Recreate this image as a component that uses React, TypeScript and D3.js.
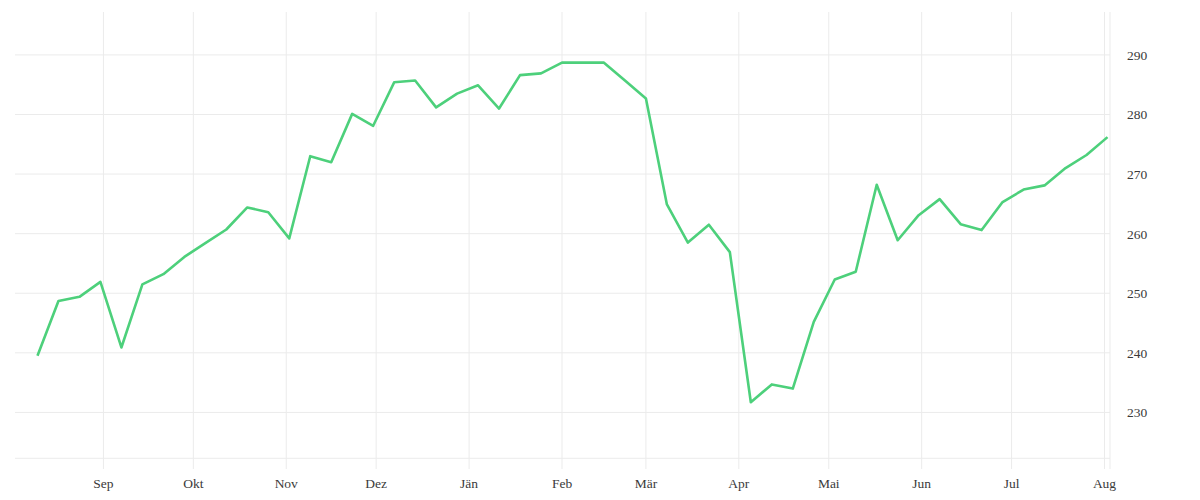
import React from "react";
import * as d3 from "d3";

const startDate = "2022-08-10";
const values: number[] = [
  239.5, 248.7, 249.4, 251.9, 240.9, 251.5, 253.2, 256.1, 258.4, 260.7,
  264.4, 263.6, 259.2, 273.0, 272.0, 280.1, 278.1, 285.4, 285.7, 281.2,
  283.5, 284.9, 281.0, 286.6, 286.9, 288.7, 288.7, 288.7, 285.7, 282.7,
  264.9, 258.5, 261.5, 256.9, 231.7, 234.7, 234.0, 245.2, 252.3, 253.6,
  268.2, 258.9, 263.1, 265.8, 261.6, 260.6, 265.3, 267.4, 268.1, 271.0,
  273.2, 276.2,
];
const monthLabels = ["Sep", "Okt", "Nov", "Dez", "Jän", "Feb", "Mär", "Apr", "Mai", "Jun", "Jul", "Aug"];
const yTicks = [230, 240, 250, 260, 270, 280, 290];

const W = 1200;
const H = 500;
const left = 15;
const right = 1110;
const top = 12;
const bottom = 458.3;

export default function App() {
  const parse = d3.utcParse("%Y-%m-%d");
  const d0 = parse(startDate) as Date;
  const data = values.map((v, i) => ({ date: d3.utcDay.offset(d0, i * 7), value: v }));

  const x = d3
    .scaleUtc()
    .domain([new Date(Date.UTC(2022, 7, 2, 12)), new Date(Date.UTC(2023, 7, 2, 20))])
    .range([left, right]);
  const y = d3.scaleLinear().domain([222.3, 297.2]).range([bottom, top]);

  const monthTicks = d3.utcMonth.range(new Date(Date.UTC(2022, 8, 1)), new Date(Date.UTC(2023, 7, 2)));

  const line = d3
    .line<{ date: Date; value: number }>()
    .x((d) => x(d.date))
    .y((d) => y(d.value));

  const grid = "#ebebeb";
  const font = "'Liberation Serif', 'DejaVu Serif', serif";

  return (
    <svg width={W} height={H} style={{ position: "absolute", left: 0, top: 0, background: "#fff" }}>
      {yTicks.map((t) => (
        <line key={"h" + t} x1={left} x2={right} y1={y(t)} y2={y(t)} stroke={grid} strokeWidth={1} />
      ))}
      {monthTicks.map((m, i) => (
        <line key={"v" + i} x1={x(m)} x2={x(m)} y1={top} y2={469} stroke={grid} strokeWidth={1} />
      ))}
      <line x1={left} x2={right} y1={bottom} y2={bottom} stroke={grid} strokeWidth={1} />
      <line x1={right} x2={right} y1={top} y2={469} stroke={grid} strokeWidth={1} />
      <path d={line(data) || ""} fill="none" stroke="#4dd07b" strokeWidth={2.6} strokeLinejoin="round" />
      {monthTicks.map((m, i) => (
        <text
          key={"xl" + i}
          x={x(m)}
          y={488}
          textAnchor="middle"
          fontFamily={font}
          fontSize={13.5}
          fill="#3a3a3a"
        >
          {monthLabels[i]}
        </text>
      ))}
      {yTicks.map((t) => (
        <text
          key={"yl" + t}
          x={1127}
          y={y(t) + 5}
          textAnchor="start"
          fontFamily={font}
          fontSize={13.5}
          fill="#3a3a3a"
        >
          {t}
        </text>
      ))}
    </svg>
  );
}
